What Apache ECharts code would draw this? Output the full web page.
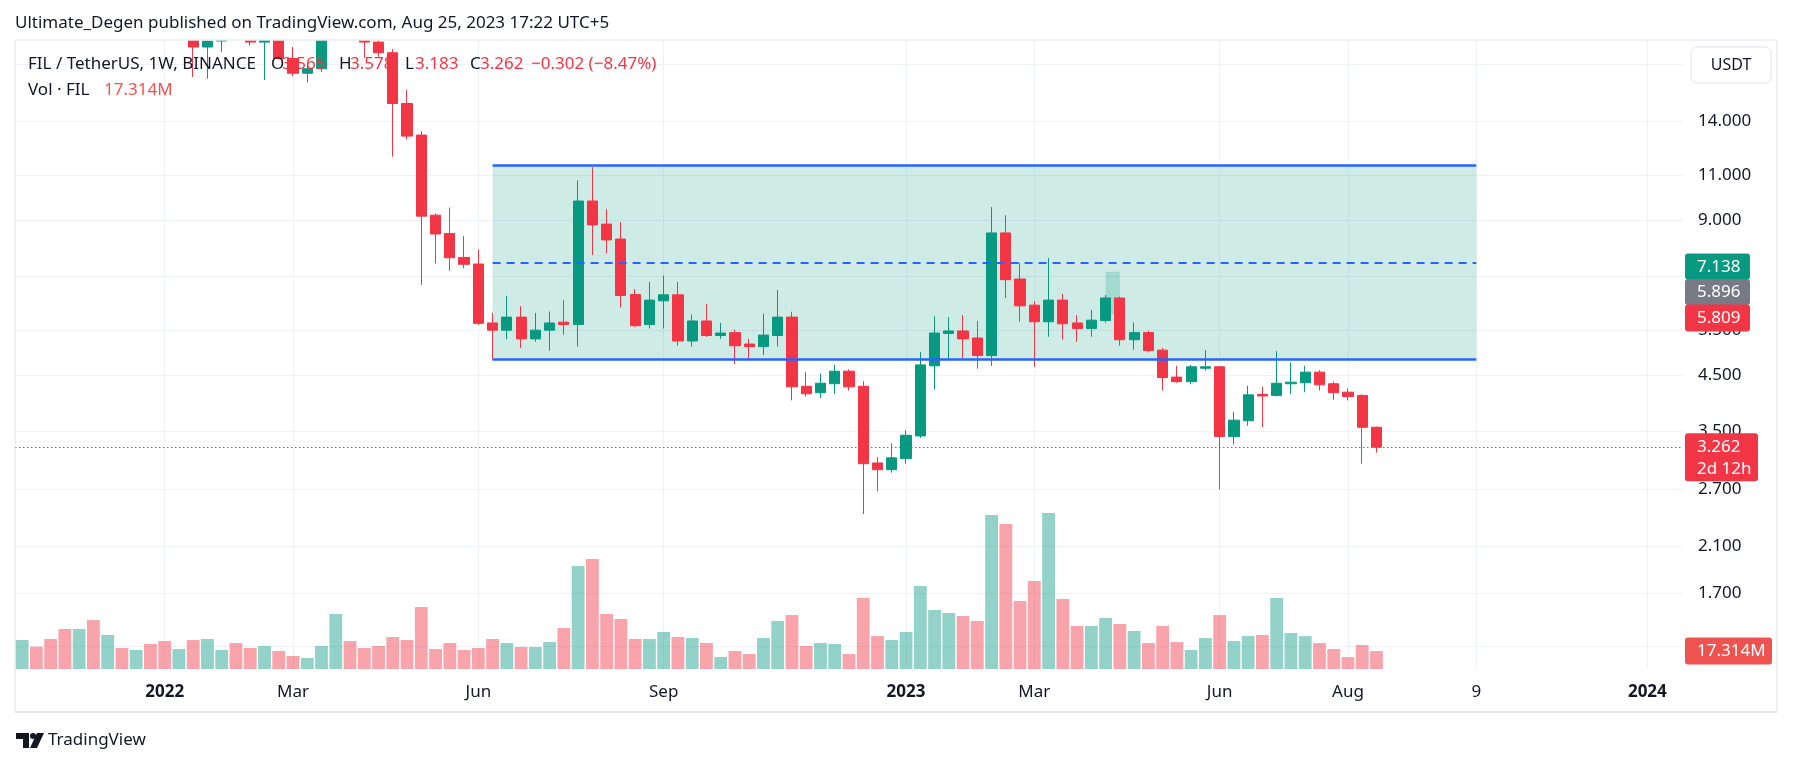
<!DOCTYPE html>
<html><head><meta charset="utf-8">
<script src="https://cdn.jsdelivr.net/npm/echarts@6/dist/echarts.min.js"></script>
<style>html,body{margin:0;padding:0;background:#fff}#c{width:1793px;height:765px}</style>
</head><body><div id="c"></div>
<script>
const FONT = '"Noto Sans", "Open Sans", sans-serif';

// ---- categories: weekly bars starting 2021-10-25 ----
const firstWeek = Date.UTC(2021, 9, 25);
const weekCount = 117;
const weeks = [];
for (let i = 0; i < weekCount; i++) weeks.push(new Date(firstWeek + i * 7 * 864e5).toISOString().slice(0, 10));

// ---- FIL/USDT weekly OHLC (early weeks are above the visible range) ----
const open = [53,58,56,52,45,47,37,38,33,35,31,27,27.5,19.47,20.0,21.8,20.8,19.9,20.7,18.5,
  17.32,17.67,21.3,25.8,21.4,19.9,18.98,15.13,13.14,9.19,8.47,7.61,7.39,5.68,5.50,5.83,5.29,5.50,5.70,5.64,
  9.79,8.83,8.26,6.45,5.64,6.27,6.44,5.24,5.73,5.37,5.44,5.17,5.11,5.37,5.83,4.28,4.16,4.33,4.58,4.28,
  3.04,2.95,3.10,3.43,4.69,5.42,5.48,5.31,4.91,8.49,6.91,6.15,5.71,6.29,5.68,5.54,5.74,6.35,5.27,5.44,
  5.03,4.46,4.37,4.64,4.67,3.42,3.67,4.13,4.11,4.33,4.35,4.56,4.33,4.17,4.11,3.565];
const high = [62,67,60,53,50,48,41,39,37,38,32,29,28.5,20.8,22.8,23.5,21.2,21.4,21.0,19.47,
  17.96,21.8,29.0,26.3,22.1,20.3,19.3,16.06,13.38,9.27,9.51,8.37,7.89,5.94,6.41,6.12,5.94,5.98,6.29,10.73,
  11.38,9.44,8.91,6.61,6.82,7.02,6.82,5.90,6.18,5.68,5.51,5.29,5.92,6.58,5.97,4.56,4.53,4.71,4.62,4.38,
  3.12,3.32,3.52,4.99,5.85,5.83,5.88,5.73,9.53,9.19,7.43,6.26,7.59,6.47,5.88,6.02,6.44,6.39,5.69,5.49,
  5.08,4.69,4.71,5.03,4.68,3.82,4.29,4.27,5.01,4.76,4.69,4.60,4.37,4.24,4.13,3.578];
const low = [50,54,50,43,40,32,33,31,32,30,26,25,17.03,16.9,19.04,20.3,19.6,16.8,18.4,17.10,
  16.63,17.42,20.8,20.5,18.53,18.65,11.93,12.89,6.73,7.41,7.17,7.25,5.63,4.83,5.28,5.08,5.22,5.02,5.39,5.11,
  7.69,7.75,6.08,5.58,5.54,5.54,5.13,5.11,5.34,5.29,4.73,4.81,4.92,5.11,4.02,4.09,4.06,4.14,4.20,2.42,
  2.68,2.91,3.03,3.40,4.22,4.83,4.85,4.63,4.69,6.35,5.71,4.67,5.34,5.27,5.22,5.34,5.69,5.13,5.04,4.98,
  4.20,4.35,4.32,4.59,2.70,3.30,3.59,3.57,4.09,4.14,4.17,4.20,4.03,4.02,3.03,3.183];
const close = [58,56,52,45,47,37,38,33,35,31,27,27.5,19.47,20.0,21.8,20.8,19.9,20.7,18.5,17.32,
  17.67,21.3,25.8,21.4,19.9,18.98,15.13,13.08,9.15,8.45,7.60,7.38,5.67,5.50,5.83,5.29,5.50,5.68,5.64,9.79,
  8.80,8.23,6.42,5.61,6.29,6.44,5.24,5.73,5.37,5.43,5.13,5.11,5.38,5.83,4.27,4.14,4.34,4.58,4.27,3.03,
  2.95,3.11,3.44,4.71,5.43,5.48,5.29,4.91,8.49,6.89,6.13,5.71,6.29,5.66,5.54,5.75,6.35,5.27,5.44,5.02,
  4.45,4.37,4.67,4.67,3.42,3.68,4.12,4.10,4.34,4.36,4.56,4.31,4.16,4.09,3.565,3.262];
// weekly volume, millions of FIL
const volume = [27.9,21.5,28.9,38.5,38.5,47.1,32.7,20.2,18.3,24.1,26.9,19.2,27.9,28.9,18.3,25.0,20.2,22.1,17.3,12.5,
  10.6,22.1,52.9,26.9,20.2,22.1,30.8,27.9,59.6,19.2,25.0,18.3,20.2,28.9,25.0,21.2,21.2,26.0,39.4,99.1,
  105.8,52.9,48.1,28.9,28.9,35.6,30.8,29.8,25.0,11.5,17.3,14.4,29.8,46.2,51.9,22.1,25.0,24.1,14.4,68.3,
  31.7,27.9,35.6,79.8,56.8,53.9,51.0,46.2,148.1,139.5,65.4,84.7,150.1,67.3,41.4,41.4,49.1,43.3,36.6,25.0,
  41.4,26.0,18.3,29.8,51.9,26.9,31.7,32.7,68.3,34.6,31.7,25.0,19.2,11.5,23.1,17.314];

// ---- tick labels ----
const timeLabels = {'2022-01-03':'2022','2022-03-07':'Mar','2022-06-06':'Jun','2022-09-05':'Sep',
  '2023-01-02':'2023','2023-03-06':'Mar','2023-06-05':'Jun','2023-08-07':'Aug','2023-10-09':'9','2024-01-01':'2024'};
const yearLabels = ['2022','2023','2024'];
const priceTicks = [18, 14, 11, 9, 7, 5.5, 4.5, 3.5, 2.7, 2.1, 1.7, 1.34];

// ---- drawings ----
const rangeBox = {from:'2022-06-13', to:'2023-10-09', top:11.5, bottom:4.835, mid:7.445};
const ghostBox = {from:'2023-04-10', to:'2023-04-17', top:7.138, bottom:5.896};
const lastPrice = 3.262, lastVolume = 17.314;
const sideLabels = {green:'7.138', grey:'5.896', red:'5.809', redValue:5.809};

const UP = '#089981', DOWN = '#f23645', INK = '#131722', GRID = '#eef1f6';

const candleData = open.map((o, i) => [o, close[i], low[i], high[i]]);
const volData = volume.map((v, i) => ({value: v, itemStyle: {color: close[i] >= open[i] ? 'rgba(8,153,129,0.44)' : 'rgba(242,54,69,0.45)'}}));

const chart = echarts.init(document.getElementById('c'), null, {renderer: 'canvas'});

const gridLines = priceTicks.map(v => ({yAxis: v, label: {show: true, formatter: v.toFixed(3)}}))
  .concat(Object.keys(timeLabels).map(d => ({xAxis: d, label: {show: false}})));

chart.setOption({
  animation: false,
  grid: {left: 15, right: 110, top: 41, bottom: 96},
  xAxis: {
    type: 'category', data: weeks, boundaryGap: true,
    axisLine: {show: false}, axisTick: {show: false}, splitLine: {show: false},
    axisLabel: {
      interval: (i, v) => v in timeLabels,
      formatter: v => yearLabels.includes(timeLabels[v]) ? '{b|' + timeLabels[v] + '}' : (timeLabels[v] || ''),
      margin: 15, color: INK, fontSize: 17, fontFamily: FONT,
      rich: {b: {fontWeight: 'bold', fontSize: 17, color: INK, fontFamily: FONT}}
    }
  },
  yAxis: [
    {type: 'log', logBase: 10, min: 1.2116, max: 20.0, axisLabel: {show: false}, axisLine: {show: false}, axisTick: {show: false}, splitLine: {show: false}},
    {type: 'value', min: 0, max: 604.1, show: false, splitLine: {show: false}}
  ],
  series: [
    {
      type: 'line', data: [], silent: true, z: 0,
      markLine: {
        z: 0, silent: true, symbol: ['none', 'none'], animation: false,
        lineStyle: {color: GRID, width: 1, type: 'solid'},
        label: {position: 'end', distance: 15, color: INK, fontSize: 17, fontFamily: FONT},
        data: gridLines
      }
    },
    {type: 'bar', yAxisIndex: 1, data: volData, barCategoryGap: '10%', z: 1, silent: true},
    {
      type: 'candlestick', data: candleData, barWidth: '75%', z: 3, silent: true, clip: true,
      itemStyle: {color: UP, color0: DOWN, borderColor: UP, borderColor0: DOWN, borderWidth: 1},
      markArea: {
        z: 1, silent: true,
        data: [
          [{xAxis: rangeBox.from, yAxis: rangeBox.top, itemStyle: {color: 'rgba(8,153,129,0.2)'}}, {xAxis: rangeBox.to, yAxis: rangeBox.bottom}],
          [{xAxis: ghostBox.from, yAxis: ghostBox.top, itemStyle: {color: 'rgba(8,153,129,0.22)'}}, {xAxis: ghostBox.to, yAxis: ghostBox.bottom}]
        ]
      },
      markLine: {
        z: 4, silent: true, symbol: ['none', 'none'], animation: false,
        label: {show: false},
        data: [
          [{xAxis: rangeBox.from, yAxis: rangeBox.top, lineStyle: {color: '#2962ff', width: 2.6, type: 'solid'}}, {xAxis: rangeBox.to, yAxis: rangeBox.top}],
          [{xAxis: rangeBox.from, yAxis: rangeBox.bottom, lineStyle: {color: '#2962ff', width: 2.6, type: 'solid'}}, {xAxis: rangeBox.to, yAxis: rangeBox.bottom}],
          [{xAxis: rangeBox.from, yAxis: rangeBox.mid, lineStyle: {color: '#2962ff', width: 1.8, type: [8, 6]}}, {xAxis: rangeBox.to, yAxis: rangeBox.mid}],
          {yAxis: lastPrice, lineStyle: {color: DOWN, width: 1, type: [1.5, 2.5]}}
        ]
      }
    }
  ]
});

// ---- overlay texts / price-scale labels ----
const yPx = v => chart.convertToPixel({yAxisIndex: 0}, v);
const yVol = v => chart.convertToPixel({yAxisIndex: 1}, v);
const t = (text, x, y, fill, size, weight, align) => ({
  type: 'text', z: 100, style: {text: text, x: x, y: y, fill: fill || INK, font: (weight || 'normal') + ' ' + (size || 17) + 'px ' + FONT, verticalAlign: 'middle', align: align || 'left'}
});
const box = (x, y, w, h, fill) => ({type: 'rect', z: 99, shape: {x: x, y: y, width: w, height: h, r: 3}, style: {fill: fill}});

const yRed = yPx(sideLabels.redValue);
const yLast = yPx(lastPrice);
const yV = yVol(lastVolume);

const els = [
  // white band above the pane hides the parts of candles beyond the top of the price range
  {type: 'rect', z: 90, shape: {x: 0, y: 0, width: 1793, height: 40.5}, style: {fill: '#fff'}},
  // frame
  {type: 'rect', z: 98, shape: {x: 15, y: 40, width: 1762, height: 672}, style: {fill: 'none', stroke: '#e0e3eb', lineWidth: 1}},
  {type: 'line', z: 98, shape: {x1: 15, y1: 712, x2: 1777, y2: 712}, style: {stroke: '#e6e8ee', lineWidth: 2}},
  // header
  t('Ultimate_Degen published on TradingView.com, Aug 25, 2023 17:22 UTC+5', 15, 23, INK, 17),
  // legend
  t('FIL / TetherUS, 1W, BINANCE', 28, 64, INK, 17),
  t('O', 271, 64, INK, 17), t('3.565', 282, 64, DOWN, 17),
  t('H', 339, 64, INK, 17), t('3.578', 350, 64, DOWN, 17),
  t('L', 405, 64, INK, 17), t('3.183', 415, 64, DOWN, 17),
  t('C', 470, 64, INK, 17), t('3.262', 480, 64, DOWN, 17),
  t('\u22120.302 (\u22128.47%)', 531, 64, DOWN, 17),
  t('Vol \u00b7 FIL', 28, 90, INK, 17), t('17.314M', 104, 90, '#ef5350', 17),
  // USDT button
  {type: 'rect', z: 99, shape: {x: 1691, y: 47, width: 80, height: 36, r: 6}, style: {fill: '#fff', stroke: '#e0e3eb', lineWidth: 1}},
  t('USDT', 1731, 65, INK, 16, 'normal', 'center'),
  // stacked labels
  box(1685, yRed - 13.5 - 51, 65, 26, UP), t(sideLabels.green, 1697, yRed - 51, '#fff', 17),
  box(1685, yRed - 13.5 - 25.5, 65, 26, '#787b86'), t(sideLabels.grey, 1697, yRed - 25.5, '#fff', 17),
  box(1685, yRed - 13.5, 65, 27, DOWN), t(sideLabels.red, 1697, yRed, '#fff', 17),
  // last price + countdown
  box(1685, yLast - 14, 73, 48, DOWN), t(lastPrice.toFixed(3), 1697, yLast, '#fff', 17), t('2d 12h', 1697, yLast + 22, '#fff', 17),
  // volume label
  box(1685, yV - 13.5, 87, 27, '#ef5350'), t(lastVolume.toFixed(3) + 'M', 1697, yV, '#fff', 17),
  // footer logo
  {type: 'polygon', z: 100, shape: {points: [[16, 733], [29, 733], [29, 748], [23, 748], [23, 739], [16, 739]]}, style: {fill: INK}},
  {type: 'circle', z: 100, shape: {cx: 33, cy: 736, r: 3}, style: {fill: INK}},
  {type: 'polygon', z: 100, shape: {points: [[37, 733], [44, 733], [37, 748], [30, 748]]}, style: {fill: INK}},
  t('TradingView', 48, 740, INK, 17)
];
chart.setOption({graphic: {elements: els}});
</script></body></html>
